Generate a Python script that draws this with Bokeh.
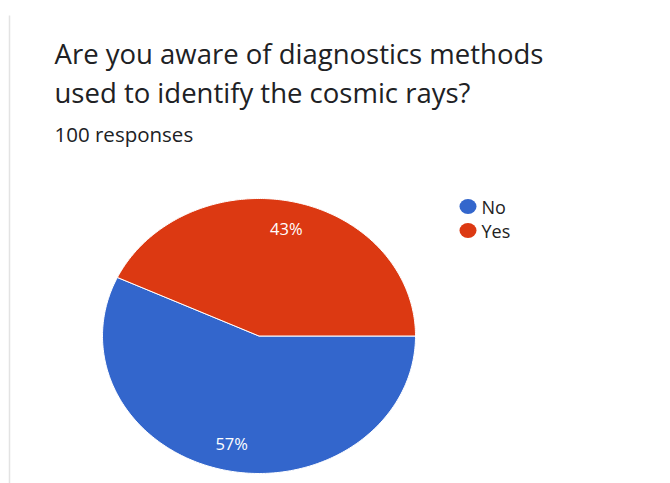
import numpy as np
from bokeh.plotting import figure
from bokeh.models import Range1d
from bokeh.core.properties import value
from bokeh.embed import file_html
from bokeh.resources import INLINE

# Survey data
title_lines = ["Are you aware of diagnostics methods", "used to identify the cosmic rays?"]
subtitle = "100 responses"
categories = ["No", "Yes"]
shares = [57, 43]
colors = ["#3366CC", "#DC3912"]

W, H = 670, 483
p = figure(width=W, height=H, output_backend="svg", toolbar_location=None,
           x_range=Range1d(0, W), y_range=Range1d(H, 0),
           min_border=0, outline_line_color=None)
p.axis.visible = False
p.grid.visible = False
p.background_fill_color = "white"
p.border_fill_color = "white"

FONT = value("Open Sans")

# card edge on the left
p.segment(x0=[9], y0=[15], x1=[9], y1=[H], line_color="#e3e3e3", line_width=1.5)

# header
p.text(x=[54, 54], y=[53, 92], text=title_lines, text_font=FONT,
       text_font_size="27.5px", text_color="#202124", text_baseline="middle")
p.text(x=[54], y=[133], text=[subtitle], text_font=FONT,
       text_font_size="20.5px", text_color="#202124", text_baseline="middle")

# pie (slightly wider than tall), starting at 3 o'clock and running clockwise
cx, cy, rx, ry = 258.5, 335.5, 156.5, 137.5
total = float(sum(shares))
fracs = np.array(shares) / total
ends = np.cumsum(fracs) * 2 * np.pi
starts = ends - fracs * 2 * np.pi

xs, ys, lx, ly, labels = [], [], [], [], []
for s, e, f in zip(starts, ends, fracs):
    t = np.linspace(s, e, 200)
    # clockwise on screen: y grows downward, so +sin moves down
    xs.append(np.concatenate([[cx], cx + rx * np.cos(t), [cx]]))
    ys.append(np.concatenate([[cy], cy + ry * np.sin(t), [cy]]))
    m = (s + e) / 2
    lx.append(cx + 0.8 * rx * np.cos(m))
    ly.append(cy + 0.8 * ry * np.sin(m))
    labels.append(f"{round(f * 100)}%")

p.patches(xs=xs, ys=ys, fill_color=colors, line_color="white", line_width=1)
p.text(x=lx, y=ly, text=labels, text_font=FONT, text_font_size="16.5px",
       text_color="white", text_align="center", text_baseline="middle")

# legend
leg_y = [206 + 24 * i for i in range(len(categories))]
p.ellipse(x=[467.5] * len(categories), y=leg_y, width=17, height=15,
          fill_color=colors, line_color=None)
p.text(x=[481] * len(categories), y=leg_y, text=categories, text_font=FONT,
       text_font_size="18px", text_color="#222222", text_baseline="middle")

open("out.html", "w").write(file_html(p, INLINE))
